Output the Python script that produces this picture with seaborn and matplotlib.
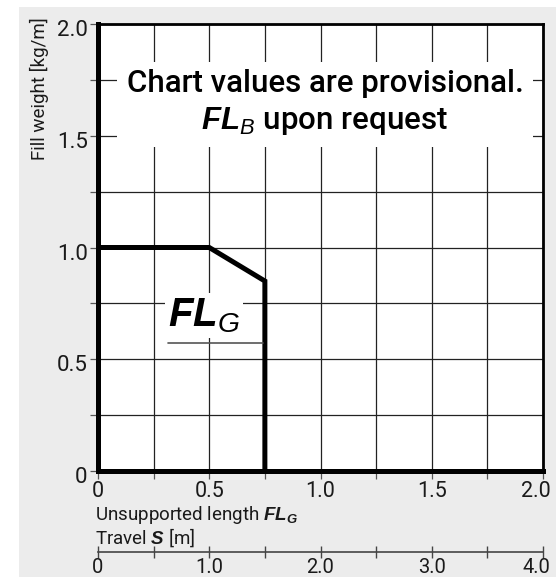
import matplotlib
matplotlib.use("Agg")
import matplotlib.pyplot as plt
import matplotlib.transforms as mtransforms
from matplotlib.patches import Rectangle
import seaborn as sns

# Permissible fill weight over the unsupported length FL_G
length_m = [0.0, 0.5, 0.75, 0.75]
fill_weight = [1.0, 1.0, 0.85, 0.0]

# Axis ticks and their labels
length_ticks = [0.0, 0.25, 0.5, 0.75, 1.0, 1.25, 1.5, 1.75, 2.0]
length_tick_labels = ["0", "", "0.5", "", "1.0", "", "1.5", "", "2.0"]
weight_ticks = [0.0, 0.25, 0.5, 0.75, 1.0, 1.25, 1.5, 1.75, 2.0]
weight_tick_labels = ["0", "", "0.5", "", "1.0", "", "1.5", "", "2.0"]
travel_ticks = [0.0, 0.5, 1.0, 1.5, 2.0, 2.5, 3.0, 3.5, 4.0]
travel_tick_labels = ["0", "", "1.0", "", "2.0", "", "3.0", "", "4.0"]

sns.set_theme(style="white")
plt.rcParams.update({
    "font.family": ["Roboto", "DejaVu Sans"],
    "mathtext.fontset": "custom",
    "mathtext.rm": "Liberation Sans",
    "mathtext.it": "Liberation Sans:italic",
    "mathtext.bf": "Liberation Sans:italic:bold",
})

TEXT = "#1a1a1a"
W, H = 556, 577
fig = plt.figure(figsize=(W / 100, H / 100), dpi=100)
fig.patch.set_facecolor("white")
fig.add_artist(Rectangle((19 / W, 0), 1 - 19 / W, (H - 7) / H,
                         transform=fig.transFigure, fc="#ececec",
                         ec="none", zorder=-1))

ax = fig.add_axes([98 / W, (H - 471) / H, (543 - 98) / W, (471 - 24) / H])
ax.set_facecolor("white")

sns.lineplot(x=length_m, y=fill_weight, sort=False, estimator=None,
             color="black", linewidth=3.6, ax=ax, zorder=3)
for line in ax.lines:
    line.set_solid_joinstyle("miter")

ax.set_xlim(0, 2)
ax.set_ylim(0, 2)
ax.set_xticks(length_ticks, length_tick_labels)
ax.set_yticks(weight_ticks, weight_tick_labels)
ax.set_axisbelow(True)
ax.grid(True, color="#222222", linewidth=0.9)

for side in ("left", "bottom"):
    ax.spines[side].set_linewidth(3.6)
    ax.spines[side].set_color("black")
for side in ("top", "right"):
    ax.spines[side].set_linewidth(2.0)
    ax.spines[side].set_color("black")

ax.tick_params(axis="both", direction="out", length=5.5, width=0.9,
               color="#555555", labelsize=16, labelcolor=TEXT,
               bottom=True, left=True)
ax.tick_params(axis="y", pad=2)
ax.tick_params(axis="x", pad=2, labelsize=15.5)

# nudge the y labels slightly below their ticks
down = mtransforms.ScaledTranslation(0, -3 / 72, fig.dpi_scale_trans)
for lab in ax.get_yticklabels():
    lab.set_transform(lab.get_transform() + down)

# keep the rightmost labels inside the figure
left_shift = mtransforms.ScaledTranslation(-5 / 72, 0, fig.dpi_scale_trans)
last_x = ax.get_xticklabels()[-1]
last_x.set_transform(last_x.get_transform() + left_shift)

# Second scale: travel S is twice the unsupported length
sec = ax.secondary_xaxis(-(552 - 471) / 447,
                         functions=(lambda x: 2 * x, lambda s: s / 2))
sec.set_xticks(travel_ticks, travel_tick_labels)
sec.tick_params(direction="inout", length=8, width=1.0, color="#444444",
                labelsize=14.5, labelcolor=TEXT, pad=0)
sec.spines["bottom"].set_color("#444444")
sec.spines["bottom"].set_linewidth(1.2)
last_s = sec.get_xticklabels()[-1]
last_s.set_transform(last_s.get_transform() + left_shift)

ax.text(-0.007, -(520 - 471) / 447,
        r"Unsupported length $\mathbf{FL}_{\mathbf{G}}$",
        transform=ax.transAxes, ha="left", va="baseline", fontsize=13.5,
        color=TEXT)
ax.text(-0.007, -(544 - 471) / 447, r"Travel $\mathbf{S}$ [m]",
        transform=ax.transAxes, ha="left", va="baseline", fontsize=13.5,
        color=TEXT)
fig.text(39 / W, (H - 17) / H, "Fill weight [kg/m]", rotation=90,
         ha="center", va="top", fontsize=13.5, color=TEXT)

ax.text(1.02, 1.645,
        "Chart values are provisional.\n"
        r"$\mathbf{FL}_{\mathit{B}}$ upon request",
        ha="center", va="center", fontsize=22.5, fontweight="medium",
        linespacing=1.3, color="black", zorder=5,
        bbox=dict(boxstyle="square,pad=0.3", fc="white", ec="none"))

ax.text(0.314, 0.646, r"$\mathbf{FL}_{\mathit{G}}$", ha="left",
        va="baseline", fontsize=29, color="black", zorder=5,
        bbox=dict(boxstyle="square,pad=0.08", fc="white", ec="none"))
ax.plot([0.314, 0.742], [0.574, 0.574], color="#555555", linewidth=1.2,
        zorder=4)

fig.savefig("out.png", dpi=100)
